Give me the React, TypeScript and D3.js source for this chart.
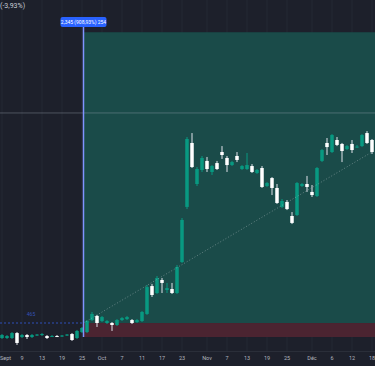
import React, { useEffect, useRef } from 'react';
import * as d3 from 'd3';

// candles, oldest first (bearish candles are drawn white)
const opens = [
  0.137, 0.137, 0.137, 0.177, 0.145, 0.161, 0.145, 0.161, 0.161, 0.153,
  0.149, 0.153, 0.149, 0.157, 0.169, 0.137, 0.185, 0.185, 0.282, 0.315,
  0.274, 0.258, 0.258, 0.242, 0.282, 0.29, 0.282, 0.266, 0.274, 0.331,
  0.556, 0.5, 0.605, 0.524, 0.532, 0.5, 0.75, 1.194, 1.71, 1.379,
  1.492, 1.565, 1.476, 1.548, 1.637, 1.589, 1.532, 1.605, 1.5, 1.5,
  1.524, 1.468, 1.508, 1.363, 1.427, 1.347, 1.194, 1.234, 1.121, 1.129,
  1.363, 1.379, 1.315, 1.282, 1.565, 1.71, 1.637, 1.734, 1.702, 1.661,
  1.702, 1.673, 1.685, 1.79, 1.734,
];
const closes = [
  0.161, 0.153, 0.177, 0.097, 0.161, 0.145, 0.161, 0.165, 0.169, 0.137,
  0.153, 0.149, 0.157, 0.165, 0.121, 0.194, 0.218, 0.274, 0.331, 0.258,
  0.306, 0.274, 0.242, 0.282, 0.298, 0.306, 0.258, 0.282, 0.347, 0.548,
  0.484, 0.621, 0.581, 0.54, 0.5, 0.71, 1.089, 1.742, 1.516, 1.5,
  1.589, 1.5, 1.524, 1.5, 1.613, 1.532, 1.556, 1.573, 1.524, 1.532,
  1.476, 1.492, 1.355, 1.387, 1.347, 1.226, 1.242, 1.177, 1.065, 1.387,
  1.379, 1.355, 1.29, 1.508, 1.653, 1.677, 1.774, 1.694, 1.645, 1.685,
  1.653, 1.681, 1.774, 1.71, 1.637,
];
const highs = [
  0.169, 0.161, 0.185, 0.185, 0.169, 0.169, 0.169, 0.169, 0.177, 0.161,
  0.161, 0.161, 0.161, 0.169, 0.177, 0.202, 0.226, 0.282, 0.347, 0.323,
  0.315, 0.282, 0.266, 0.29, 0.306, 0.315, 0.29, 0.29, 0.355, 0.565,
  0.573, 0.637, 0.621, 0.581, 0.581, 0.726, 1.105, 1.758, 1.79, 1.516,
  1.605, 1.597, 1.532, 1.565, 1.685, 1.605, 1.565, 1.637, 1.532, 1.629,
  1.54, 1.5, 1.524, 1.395, 1.435, 1.379, 1.258, 1.25, 1.153, 1.395,
  1.387, 1.444, 1.371, 1.516, 1.661, 1.75, 1.782, 1.758, 1.71, 1.694,
  1.734, 1.694, 1.782, 1.806, 1.742,
];
const lows = [
  0.129, 0.129, 0.129, 0.081, 0.137, 0.129, 0.137, 0.153, 0.153, 0.129,
  0.145, 0.145, 0.145, 0.153, 0.113, 0.129, 0.177, 0.177, 0.274, 0.226,
  0.266, 0.25, 0.194, 0.234, 0.274, 0.282, 0.25, 0.258, 0.266, 0.323,
  0.468, 0.492, 0.5, 0.5, 0.492, 0.492, 0.742, 1.177, 1.508, 1.363,
  1.476, 1.476, 1.452, 1.492, 1.581, 1.476, 1.524, 1.556, 1.492, 1.492,
  1.468, 1.46, 1.347, 1.355, 1.29, 1.218, 1.185, 1.169, 1.056, 1.121,
  1.355, 1.315, 1.274, 1.274, 1.556, 1.613, 1.629, 1.685, 1.556, 1.653,
  1.629, 1.669, 1.677, 1.702, 1.621,
];

// x axis labels at candle indices
const tickIndex = [0, 4, 8, 12, 16, 20, 24, 28, 32, 36, 41, 45, 49, 53, 57, 62, 66, 70, 74];
const tickLabels = ['Sept', '9', '13', '19', '25', 'Oct', '7', '11', '17', '23', 'Nov', '7', '13', '19', '25', 'Déc', '6', '12', '18'];

// long position tool
const entryPrice = 0.258;
const targetPrice = 2.603;
const stopPrice = 0.145;
const toolStart = 16.3; // candle index of the tool's left edge
const levelLine = 1.952;
const toolLabel = '2,345 (908,93%) 254';
const headerText = '(-3,93%)';
const leftMarker = '465';

const W = 375;
const H = 366;

export default function App() {
  const ref = useRef<SVGSVGElement>(null);

  useEffect(() => {
    const svg = d3.select(ref.current);
    svg.selectAll('*').remove();

    const plotBottom = 351;
    const x = d3.scaleLinear().domain([0, 74]).range([2, 372]);
    const y = d3.scaleLinear().domain([0, 2.863]).range([355, 0]);

    svg.append('rect').attr('width', W).attr('height', H).attr('fill', '#1d202b');

    // faint grid
    const grid = svg.append('g');
    grid.selectAll('line.v')
      .data(tickIndex)
      .enter().append('line')
      .attr('x1', d => x(d)).attr('x2', d => x(d))
      .attr('y1', 0).attr('y2', plotBottom)
      .attr('stroke', '#252935').attr('stroke-width', 1);

    const xs = x(toolStart);

    // profit and loss zones
    svg.append('rect')
      .attr('x', xs).attr('y', y(targetPrice))
      .attr('width', W - xs).attr('height', y(entryPrice) - y(targetPrice))
      .attr('fill', '#1a4b49');
    svg.append('rect')
      .attr('x', xs).attr('y', y(entryPrice))
      .attr('width', W - xs).attr('height', y(stopPrice) - y(entryPrice))
      .attr('fill', '#4b2431');

    // horizontal level
    svg.append('line')
      .attr('x1', 0).attr('x2', W)
      .attr('y1', y(levelLine)).attr('y2', y(levelLine))
      .attr('stroke', 'rgba(170,178,190,0.35)').attr('stroke-width', 1);

    // entry dashed line to the left
    svg.append('line')
      .attr('x1', 0).attr('x2', xs)
      .attr('y1', y(entryPrice)).attr('y2', y(entryPrice))
      .attr('stroke', '#2f4fb8').attr('stroke-width', 1)
      .attr('stroke-dasharray', '2,2');
    svg.append('text')
      .attr('x', 31).attr('y', y(entryPrice) - 7)
      .attr('text-anchor', 'middle')
      .attr('font-size', 5).attr('font-family', 'Roboto, sans-serif')
      .attr('fill', '#3451b8')
      .text(leftMarker);

    // candles
    const idx = d3.range(opens.length);
    const c = svg.append('g');
    c.selectAll('line.wick')
      .data(idx)
      .enter().append('line')
      .attr('x1', i => x(i)).attr('x2', i => x(i))
      .attr('y1', i => y(highs[i])).attr('y2', i => y(lows[i]))
      .attr('stroke', i => (closes[i] >= opens[i] ? '#089981' : '#e0e3eb'))
      .attr('stroke-width', 1);
    c.selectAll('rect.body')
      .data(idx)
      .enter().append('rect')
      .attr('x', i => x(i) - 1.75)
      .attr('width', 3.5)
      .attr('y', i => y(Math.max(opens[i], closes[i])))
      .attr('height', i => Math.max(1, Math.abs(y(opens[i]) - y(closes[i]))))
      .attr('fill', i => (closes[i] >= opens[i] ? '#089981' : '#ffffff'));

    // dotted path from entry to the last close
    const last = opens.length - 1;
    svg.append('line')
      .attr('x1', xs).attr('y1', y(entryPrice))
      .attr('x2', x(last)).attr('y2', y(closes[last]))
      .attr('stroke', 'rgba(190,200,205,0.45)').attr('stroke-width', 1)
      .attr('stroke-dasharray', '1,2');

    // tool vertical edge and label
    svg.append('line')
      .attr('x1', xs).attr('x2', xs)
      .attr('y1', 27).attr('y2', y(stopPrice))
      .attr('stroke', '#8093ff').attr('stroke-width', 1.5);
    svg.append('rect')
      .attr('x', xs - 23).attr('y', 17).attr('width', 46).attr('height', 10)
      .attr('rx', 2).attr('fill', '#2962ff');
    svg.append('text')
      .attr('x', xs).attr('y', 24)
      .attr('text-anchor', 'middle')
      .attr('font-size', 5).attr('font-family', 'Roboto, sans-serif')
      .attr('fill', '#ffffff')
      .text(toolLabel);

    // header
    svg.append('text')
      .attr('x', 0).attr('y', 8)
      .attr('font-size', 7).attr('font-family', 'Roboto, sans-serif')
      .attr('fill', '#c8ccd6')
      .text(headerText);

    // time axis
    svg.append('line')
      .attr('x1', 0).attr('x2', W)
      .attr('y1', plotBottom + 0.5).attr('y2', plotBottom + 0.5)
      .attr('stroke', '#2a2e39');
    svg.append('g')
      .selectAll('text')
      .data(tickIndex)
      .enter().append('text')
      .attr('x', d => (d === 0 ? 0 : x(d))).attr('y', 360)
      .attr('text-anchor', d => (d === 0 ? 'start' : 'middle'))
      .attr('font-size', 5.5).attr('font-family', 'Roboto, sans-serif')
      .attr('fill', '#b2b5be')
      .text((d, i) => tickLabels[i]);
  }, []);

  return (
    <div style={{ position: 'fixed', left: 0, top: 0 }}>
      <svg ref={ref} width={W} height={H} style={{ display: 'block' }} />
    </div>
  );
}
